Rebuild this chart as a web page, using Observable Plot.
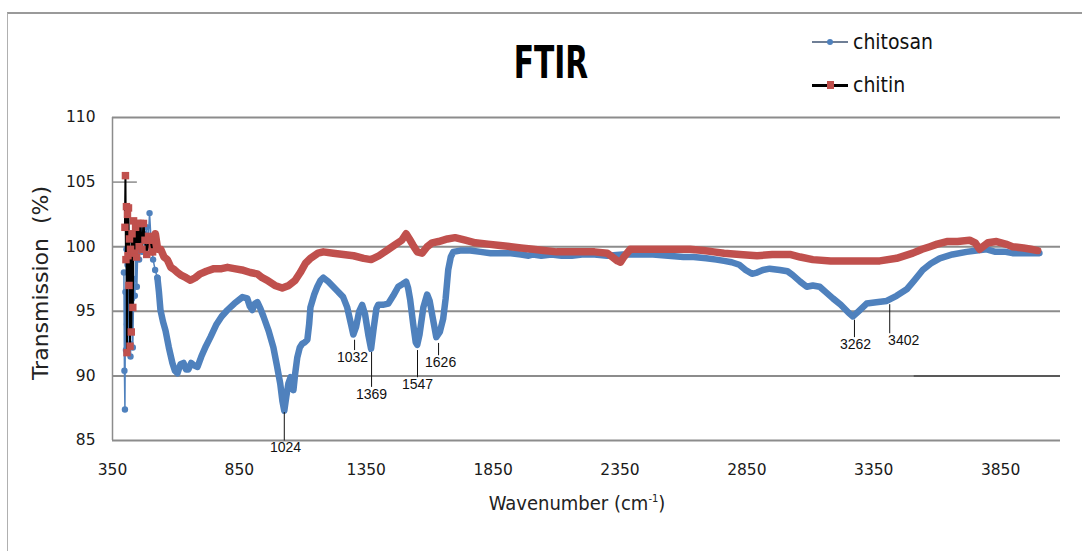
<!DOCTYPE html>
<html>
<head>
<meta charset="utf-8">
<script src="https://cdn.jsdelivr.net/npm/d3@7"></script>
<script src="https://cdn.jsdelivr.net/npm/@observablehq/plot@0.6"></script>
<style>
  html, body { margin:0; padding:0; background:#fff; }
  #wrap { position:relative; width:1082px; height:551px; overflow:hidden; font-family:"DejaVu Sans", sans-serif; }
  #border { position:absolute; left:7px; top:12px; right:-10px; bottom:-10px; border-top:2px solid #9a9a9a; border-left:1px solid #b0b0b0; }
  #title { position:absolute; left:551px; top:40px; transform:translateX(-50%) scaleX(0.66); font-family:"DejaVu Sans"; font-weight:bold; font-size:45px; line-height:1; color:#000; white-space:nowrap; }
  .leg { position:absolute; left:812px; height:24px; white-space:nowrap; }
  .leg .ln { position:absolute; left:0; width:36px; }
  .leg .mk { position:absolute; }
  .leg .tx { position:absolute; left:41px; top:0; font-family:"DejaVu Sans Condensed","DejaVu Sans"; font-size:21px; line-height:24px; color:#111; }
  #ytitle { position:absolute; left:40px; top:283px; transform:translate(-50%,-50%) rotate(-90deg); font-size:22px; white-space:nowrap; color:#222; }
  #xtitle { position:absolute; left:577px; top:503px; transform:translate(-50%,-50%); font-size:20px; white-space:nowrap; color:#222; font-family:"DejaVu Sans Condensed","DejaVu Sans"; }
  #plot { position:absolute; left:0; top:0; }
</style>
</head>
<body>
<div id="wrap">
  <div id="plot"></div>
  <div id="border"></div>
  <div id="title">FTIR</div>
  <div class="leg" style="top:30px;">
    <div class="ln" style="top:11px;height:1.5px;background:#6f7f96;"></div>
    <div class="mk" style="left:15px;top:9px;width:6px;height:6px;border-radius:50%;background:#4F81BD;"></div>
    <div class="tx">chitosan</div>
  </div>
  <div class="leg" style="top:73px;">
    <div class="ln" style="top:11px;height:2.5px;background:#000;"></div>
    <div class="mk" style="left:15px;top:8px;width:7px;height:8px;background:#C0504D;"></div>
    <div class="tx">chitin</div>
  </div>
  <div id="ytitle">Transmission&nbsp;&nbsp;(%)</div>
  <div id="xtitle">Wavenumber (cm<sup style="font-size:11px">-1</sup>)</div>
</div>
<script>
// ---- data (wavenumber cm^-1, transmission %) ----
const xTicks = [350, 850, 1350, 1850, 2350, 2850, 3350, 3850];
const yTicks = [85, 90, 95, 100, 105, 110];

const chitosanW = [395,397,399,401,403,405,407,409,411,413,415,417,419,421,424,427,430,434,438,442,446,450,455,460,466,472,478,484,490,496,502,510,518,527,533,539,549,559,572,586,596,606,618,630,640,649,660,672,685,700,718,736,760,780,803,830,862,881,891,901,911,921,933,945,965,984,998,1011,1020,1027,1035,1043,1052,1063,1070,1078,1088,1098,1108,1118,1125,1130,1145,1157,1170,1181,1200,1220,1240,1259,1275,1290,1299,1310,1322,1334,1345,1358,1369,1380,1390,1397,1415,1437,1456,1476,1492,1507,1515,1523,1535,1545,1551,1560,1575,1590,1600,1612,1626,1640,1653,1663,1673,1683,1693,1720,1760,1800,1840,1880,1920,1960,1990,2008,2040,2080,2120,2160,2200,2250,2300,2362,2420,2480,2540,2600,2640,2690,2730,2760,2790,2820,2845,2870,2890,2913,2940,2980,3010,3031,3060,3086,3110,3137,3160,3189,3220,3250,3268,3290,3322,3360,3401,3440,3480,3510,3543,3575,3610,3660,3716,3755,3795,3830,3870,3897,3950,4003];
const chitosanT = [98.0,90.4,87.4,96.5,92.0,99.8,94.0,98.6,91.8,100.5,93.5,97.5,92.5,91.5,99.0,96.0,92.2,97.5,96.2,99.5,96.9,100.2,99.0,101.3,99.6,101.0,99.8,101.5,100.2,102.6,100.5,99.0,98.2,97.6,96.5,95.1,94.2,93.5,92.2,91.0,90.4,90.2,90.9,91.0,90.5,90.5,91.0,90.8,90.7,91.5,92.3,93.0,94.0,94.6,95.1,95.6,96.1,96.0,95.4,95.1,95.6,95.7,95.2,94.6,93.5,92.2,90.8,89.4,88.0,87.3,88.4,89.4,89.9,88.9,90.2,91.4,92.2,92.5,92.6,92.8,94.0,95.3,96.3,96.9,97.4,97.6,97.3,96.9,96.5,96.1,95.3,94.0,93.2,93.8,95.0,95.5,94.8,93.2,92.1,93.8,95.2,95.5,95.5,95.6,96.2,96.9,97.1,97.3,96.8,95.9,94.0,92.6,92.4,93.2,95.3,96.3,95.8,94.5,93.0,93.4,94.4,96.0,98.2,99.2,99.6,99.7,99.7,99.6,99.5,99.5,99.5,99.4,99.3,99.4,99.3,99.4,99.3,99.3,99.4,99.4,99.3,99.4,99.4,99.4,99.3,99.2,99.2,99.1,99.0,98.9,98.8,98.6,98.2,97.9,98.0,98.2,98.3,98.2,98.1,97.8,97.3,96.9,97.0,96.9,96.5,96.0,95.5,94.9,94.6,95.0,95.6,95.7,95.8,96.2,96.7,97.4,98.2,98.7,99.1,99.4,99.6,99.7,99.8,99.6,99.6,99.5,99.5,99.5];

const chitinW = [399,401,403,405,407,409,411,413,415,417,419,421,424,427,430,433,437,441,445,450,455,460,466,472,478,485,492,500,508,519,528,540,553,566,580,595,606,620,640,657,676,696,720,750,780,803,830,860,893,920,940,960,990,1019,1045,1070,1090,1110,1130,1160,1181,1220,1260,1300,1340,1369,1400,1430,1460,1490,1507,1520,1535,1551,1570,1590,1610,1635,1670,1700,1740,1780,1830,1878,1920,1960,2008,2050,2100,2150,2200,2250,2300,2320,2340,2352,2365,2390,2440,2500,2560,2626,2680,2720,2760,2822,2890,2950,3020,3060,3110,3180,3244,3310,3374,3440,3504,3540,3571,3600,3638,3680,3728,3750,3767,3800,3834,3870,3897,3940,3970,3996];
const chitinT = [101.5,105.5,99.0,103.1,91.8,102.5,99.3,103.0,97.0,100.6,92.3,99.8,93.4,101.0,95.3,102.0,99.5,101.5,99.2,101.8,100.0,101.8,99.8,101.8,100.5,99.4,100.8,100.5,99.6,101.0,99.8,99.8,99.2,99.0,98.4,98.2,98.0,97.8,97.6,97.4,97.6,97.9,98.1,98.3,98.3,98.4,98.3,98.2,98.0,97.9,97.6,97.4,97.0,96.8,97.0,97.4,98.0,98.7,99.1,99.5,99.6,99.5,99.4,99.3,99.1,99.0,99.3,99.7,100.1,100.5,101.0,100.6,100.1,99.6,99.5,100.0,100.3,100.4,100.6,100.7,100.5,100.3,100.2,100.1,100.0,99.9,99.8,99.7,99.6,99.6,99.6,99.6,99.5,99.2,98.9,98.8,99.2,99.8,99.8,99.8,99.8,99.8,99.7,99.6,99.5,99.4,99.3,99.4,99.4,99.2,99.0,98.9,98.9,98.9,98.9,99.1,99.5,99.8,100.0,100.2,100.4,100.4,100.5,100.3,99.8,100.3,100.4,100.2,100.0,99.9,99.8,99.7];

// peak annotations
const peakLabels = ["1024","1032","1369","1547","1626","3262","3402"];
const peakW      = [1027, 1304, 1371, 1552, 1635, 3274, 3413];
const peakTop    = [87.2, 92.8, 91.85, 92.0, 92.55, 94.35, 95.55];
const peakBottom = [85.0, 92.0, 89.15, 89.9, 91.6, 93.0, 93.3];
const labelW     = [1032, 1296, 1371, 1552, 1643, 3278, 3468];

// ---- build tables ----
const chitosan = chitosanW.map((w, i) => ({w, t: chitosanT[i]}));
const chitin = chitinW.map((w, i) => ({w, t: chitinT[i]}));
const peaks = peakLabels.map((label, i) => ({label, w: peakW[i], top: peakTop[i], bottom: peakBottom[i], lw: labelW[i]}));

const BLUE = "#4F81BD", RED = "#C0504D", GRID = "#8c8c8c";

const chart = Plot.plot({
  width: 1082,
  height: 551,
  marginLeft: 112,
  marginRight: 22,
  marginTop: 117,
  marginBottom: 111,
  x: {domain: [350, 4086]},
  y: {domain: [85, 110]},
  style: {fontFamily: "DejaVu Sans", fontSize: "15.5px", color: "#1a1a1a", background: "transparent", overflow: "visible"},
  marks: [
    Plot.ruleY([110, 100, 95, 85], {stroke: GRID, strokeWidth: 2}),
    Plot.ruleY([{y: 90, a: 350, b: 3508}], {y: "y", x1: "a", x2: "b", stroke: GRID, strokeWidth: 2}),
    Plot.ruleY([{y: 90, a: 3508, b: 4086}], {y: "y", x1: "a", x2: "b", stroke: "#222", strokeWidth: 1.5}),
    Plot.ruleY([{y: 105, a: 350, b: 448}], {y: "y", x1: "a", x2: "b", stroke: GRID, strokeWidth: 1.5}),
    Plot.ruleX([350], {stroke: GRID, strokeWidth: 1.5}),
    // chitosan
    Plot.line(chitosan.filter(d => d.w >= 527), {x: "w", y: "t", stroke: BLUE, strokeWidth: 6.5, strokeLinejoin: "round", strokeLinecap: "round"}),
    Plot.line(chitosan.filter(d => d.w <= 527), {x: "w", y: "t", stroke: BLUE, strokeWidth: 1.5}),
    Plot.dot(chitosan.filter(d => d.w <= 527), {x: "w", y: "t", fill: BLUE, r: 3.2}),
    // chitin
    Plot.line(chitin.filter(d => d.w >= 500), {x: "w", y: "t", stroke: RED, strokeWidth: 7.5, strokeLinejoin: "round"}),
    Plot.line(chitin.filter(d => d.w <= 508), {x: "w", y: "t", stroke: "#000", strokeWidth: 2}),
    Plot.dot(chitin.filter(d => d.w <= 508), {x: "w", y: "t", fill: RED, symbol: "square", r: 4.2}),
    // annotations
    Plot.link(peaks, {x1: "w", x2: "w", y1: "top", y2: "bottom", stroke: "#111", strokeWidth: 1}),
    Plot.text(peaks, {x: "lw", y: "bottom", text: "label", lineAnchor: "top", dy: 2, fontFamily: "Liberation Sans", fontSize: 14, fill: "#111", clip: false}),
    Plot.axisX({ticks: xTicks, tickSize: 0, tickPadding: 23, tickFormat: d => String(d), label: null}),
    Plot.axisY({ticks: yTicks, tickSize: 0, tickPadding: 17, label: null})
  ]
});
document.getElementById("plot").appendChild(chart);
</script>
</body>
</html>
